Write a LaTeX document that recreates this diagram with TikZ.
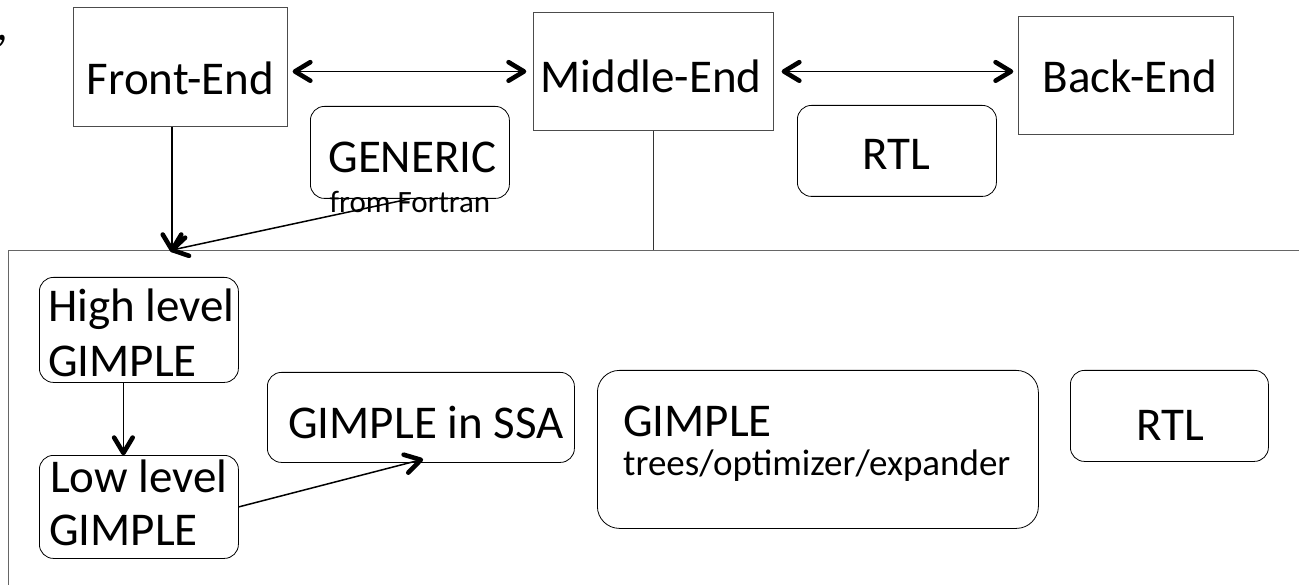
\documentclass[tikz,border=0pt]{standalone}
\usepackage{fontspec}
\setmainfont{Carlito}
\usetikzlibrary{calc}
\newcommand\mytipat[2]{\draw[chev] ($(#1)!18pt!31:(#2)$) -- (#1) -- ($(#1)!18pt!-31:(#2)$);}
\begin{document}
\begin{tikzpicture}[x=1pt,y=-1pt,
  sqbox/.style={draw=black!70, line width=0.9pt, inner sep=0pt, anchor=north west},
  rbox/.style={draw=black, line width=0.8pt, rounded corners=14pt, inner sep=0pt, anchor=north west},
  big/.style={font=\fontsize{47}{55}\selectfont, inner sep=0pt},
  small/.style={font=\fontsize{31}{36}\selectfont, inner sep=0pt},
  mid/.style={font=\fontsize{37}{44}\selectfont, inner sep=0pt},
  chev/.style={line width=4.6pt, line cap=round, line join=round},
  conn/.style={line width=1.5pt},
  plain/.style={line width=0.9pt, draw=black!80},
  frame/.style={line width=0.9pt, draw=black!60}
]
\useasboundingbox (0,0) rectangle (1299,585);

% stray comma at the left edge
\node[big, anchor=base east] (comma) at (8,41) {,};

% top row
\node[sqbox, minimum width=214pt, minimum height=119pt] (fe) at (73,7) {};
\node[big, anchor=base] (fet) at (180.5,95) {Front-End};
\node[sqbox, minimum width=240pt, minimum height=118pt] (me) at (533,12) {};
\node[big, anchor=base] (met) at (651,93) {Middle-End};
\node[sqbox, minimum width=215pt, minimum height=118pt] (be) at (1018,16) {};
\node[big, anchor=base] (bet) at (1130,93) {Back-End};

\node[rbox, minimum width=199pt, minimum height=92pt] (gen) at (310,106) {};
\node[big, anchor=base] (gent) at (412.5,173) {GENERIC};
\node[small, anchor=base] (fort) at (410,213) {from Fortran};
\node[rbox, minimum width=199pt, minimum height=91pt] (rtl1) at (797,105) {};
\node[big, anchor=base] (rtl1t) at (896,170) {RTL};

% frame of the middle-end
\draw[frame] (1320,250) -- (8,250) -- (8,600);
\coordinate (ptA) at (172,250);

% inner boxes
\node[rbox, minimum width=199pt, minimum height=105pt] (hb) at (39,277) {};
\node[big, anchor=base west] (hbt1) at (48,322) {High level};
\node[big, anchor=base west] (hbt2) at (48,377) {GIMPLE};
\node[rbox, minimum width=199pt, minimum height=103pt] (lb) at (39,455) {};
\node[big, anchor=base west] (lbt1) at (50,492) {Low level};
\node[big, anchor=base west] (lbt2) at (49,545) {GIMPLE};
\node[rbox, minimum width=307pt, minimum height=90pt] (ssa) at (267,372) {};
\node[big, anchor=base] (ssat) at (426,438) {GIMPLE in SSA};
\node[rbox, rounded corners=22pt, minimum width=441pt, minimum height=158pt] (tr) at (597,370) {};
\node[big, anchor=base west] (trt1) at (623,436) {GIMPLE};
\node[mid, anchor=base west] (trt2) at (623,475) {trees/optimizer/expander};
\node[rbox, minimum width=198pt, minimum height=91pt] (rtl2) at (1070,370) {};
\node[big, anchor=base] (rtl2t) at (1170,440) {RTL};

% connector end points
\coordinate (a1) at ([xshift=7pt]fe.east |- me.west);
\coordinate (a2) at ([xshift=-9pt]me.west);
\coordinate (b1) at ([xshift=10pt]me.east);
\coordinate (b2) at ([xshift=-7pt]me.east -| be.west);
\coordinate (c1) at (fe.south -| ptA);
\coordinate (d1) at ([xshift=-15.5pt]hb.south);
\coordinate (d2) at ([xshift=-15.5pt,yshift=2pt]lb.north);
\coordinate (e2) at ([yshift=3pt]ssa.south);

% connectors
\draw[conn] (a1) -- (a2);
\mytipat{a1}{a2}
\mytipat{a2}{a1}
\draw[conn] (b1) -- (b2);
\mytipat{b1}{b2}
\mytipat{b2}{b1}
\draw[conn] (c1) -- (ptA);
\mytipat{ptA}{c1}
\draw[conn] (gen.south) -- (ptA);
\mytipat{ptA}{gen.south}
\draw[plain] (me.south) -- (me.south |- ptA);
\draw[conn] (d1) -- (d2);
\mytipat{d2}{d1}
\draw[conn] (lb.east) -- (e2);
\mytipat{e2}{lb.east}
\end{tikzpicture}
\end{document}
